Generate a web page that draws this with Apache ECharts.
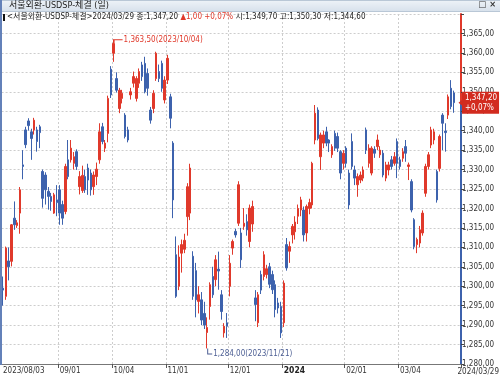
<!DOCTYPE html>
<html>
<head>
<meta charset="utf-8">
<script src="https://cdn.jsdelivr.net/npm/echarts@6/dist/echarts.min.js"></script>
<style>
html,body{margin:0;padding:0;background:#fff}
#root{width:500px;height:378px}
</style>
</head>
<body>
<div id="root"></div>
<script>
const FONT = '"Liberation Sans Narrow", "DejaVu Sans Condensed", "Noto Sans CJK KR", sans-serif';
const RED = '#e0392b';
const BLUE = '#3d62ad';

// trading calendar (weekends + these days closed)
const startDay = '2023/08/03';
const endDay = '2024/03/29';
const holidays = ['2023/08/15','2023/09/28','2023/09/29','2023/10/02','2023/10/03','2023/10/09',
  '2023/12/25','2023/12/29','2024/01/01','2024/02/09','2024/02/12','2024/03/01'];

// OHLC
const open = [
1299.5,1297.4,1306.5,1306.4,1317.5,1315.6,1318.8,1331.2,1340.2,1342.5,
1339.7,1340.2,1340.2,1341.0,1329.5,1328.6,1324.4,1323.1,1318.8,1322.2,
1324.8,1321.0,1319.2,1332.5,1332.5,1331.6,1334.6,1325.6,1324.6,1328.2,
1330.4,1329.1,1325.6,1328.2,1332.5,1341.0,1335.5,1339.3,1355.8,1359.9,
1353.4,1345.7,1348.3,1344.0,1340.2,1349.2,1352.2,1348.3,1352.2,1356.9,
1357.3,1354.7,1345.3,1345.7,1353.4,1355.2,1357.3,1347.9,1353.0,1348.7,
1336.8,1308.1,1300.0,1308.5,1309.5,1317.9,1318.8,1307.7,1304.0,1296.1,
1296.5,1293.0,1288.1,1294.8,1302.5,1301.7,1304.4,1297.8,1288.0,1290.6,
1300.0,1309.8,1314.1,1316.2,1313.7,1315.4,1316.6,1311.5,1316.0,1297.0,
1290.6,1303.0,1302.5,1303.0,1305.0,1303.0,1300.4,1295.7,1294.8,1290.6,
1310.7,1309.0,1313.2,1314.0,1318.0,1319.6,1319.6,1313.7,1320.0,1320.9,
1337.6,1345.3,1333.3,1336.8,1339.7,1337.6,1333.8,1339.3,1338.5,1334.6,
1331.6,1335.5,1329.1,1337.2,1329.9,1326.1,1327.3,1327.8,1340.2,1331.6,
1329.1,1335.2,1335.9,1333.8,1334.2,1327.8,1329.9,1332.5,1331.6,1337.2,
1332.5,1332.9,1335.9,1330.8,1326.9,1317.1,1310.7,1311.1,1313.7,1323.9,
1330.8,1336.3,1337.6,1329.5,1330.3,1344.0,1339.9,1344.0,1350.9,1349.7
];
const close = [
1299.0,1309.8,1305.0,1315.8,1315.8,1316.3,1324.8,1330.8,1336.4,1341.3,
1338.0,1342.7,1337.2,1339.5,1322.6,1324.8,1323.1,1321.8,1323.5,1321.5,
1318.8,1317.5,1330.8,1328.2,1335.5,1333.3,1330.8,1328.2,1328.5,1324.8,
1327.3,1324.8,1328.6,1330.1,1339.7,1337.2,1336.8,1348.3,1349.2,1362.4,
1350.4,1350.4,1349.6,1338.5,1337.6,1350.0,1353.9,1353.4,1355.2,1353.9,
1350.0,1350.9,1342.7,1349.6,1359.9,1353.4,1350.9,1353.0,1358.6,1343.2,
1322.2,1297.4,1307.5,1310.7,1311.8,1325.6,1330.4,1297.4,1296.5,1297.8,
1291.3,1290.0,1289.4,1300.4,1297.8,1306.8,1303.9,1293.5,1289.7,1289.7,
1305.9,1311.5,1313.2,1326.1,1306.8,1316.2,1314.5,1320.1,1320.5,1295.3,
1297.8,1299.0,1308.1,1304.5,1300.5,1299.1,1294.0,1294.4,1288.0,1300.8,
1304.7,1310.2,1315.4,1316.5,1320.0,1322.2,1313.2,1320.5,1321.5,1331.6,
1344.5,1338.0,1338.9,1338.9,1336.8,1336.8,1335.9,1335.5,1335.5,1329.1,
1334.2,1331.6,1320.9,1330.8,1327.8,1328.2,1328.6,1329.9,1335.0,1335.5,
1335.5,1334.2,1337.6,1335.0,1328.6,1331.2,1331.2,1330.8,1333.3,1331.6,
1330.8,1334.6,1334.2,1331.2,1319.6,1310.2,1312.0,1314.5,1318.8,1330.8,
1333.8,1340.2,1339.7,1322.2,1338.5,1341.9,1339.5,1348.7,1346.2,1347.2
];
const low = [
1295.0,1296.5,1301.5,1305.1,1314.5,1315.0,1313.5,1327.5,1335.5,1340.0,
1332.5,1339.0,1334.6,1335.5,1320.2,1321.0,1319.7,1319.4,1318.6,1318.0,
1315.8,1315.8,1318.5,1327.5,1331.8,1330.0,1329.9,1323.6,1324.0,1324.0,
1323.5,1323.3,1323.5,1326.0,1331.5,1336.5,1334.5,1337.0,1348.4,1357.7,
1349.8,1344.5,1347.0,1338.0,1337.0,1348.0,1351.1,1347.5,1351.0,1352.8,
1349.6,1349.0,1341.8,1344.5,1352.8,1352.5,1350.0,1347.0,1352.0,1340.6,
1317.5,1297.0,1299.0,1303.5,1308.5,1313.0,1317.0,1296.5,1292.0,1293.0,
1290.0,1289.0,1284.0,1291.4,1297.0,1300.0,1299.1,1291.4,1286.8,1286.7,
1297.4,1308.1,1312.5,1315.5,1304.7,1314.5,1313.0,1310.0,1314.0,1291.0,
1289.5,1298.0,1301.5,1302.0,1299.5,1298.0,1292.0,1293.0,1286.7,1289.5,
1304.0,1306.0,1311.0,1312.0,1316.0,1318.0,1311.5,1311.5,1318.5,1320.0,
1336.5,1337.5,1329.9,1335.5,1336.0,1334.5,1333.0,1334.8,1334.5,1327.5,
1330.0,1330.5,1319.8,1330.0,1326.0,1323.0,1326.5,1327.0,1334.0,1330.5,
1328.5,1333.0,1335.0,1333.0,1328.0,1327.0,1328.5,1330.0,1331.0,1327.8,
1330.0,1332.0,1332.0,1327.3,1319.0,1309.5,1308.5,1310.0,1313.0,1323.0,
1330.0,1335.5,1336.5,1321.5,1329.5,1335.0,1334.6,1343.0,1345.5,1344.6
];
const high = [
1302.5,1310.2,1310.0,1316.0,1321.8,1317.0,1325.5,1335.0,1341.0,1343.2,
1340.5,1343.3,1341.0,1341.5,1330.0,1329.3,1325.5,1324.0,1324.0,1326.0,
1326.0,1322.0,1331.5,1337.6,1337.6,1334.5,1335.2,1329.6,1331.0,1330.0,
1331.5,1330.0,1329.5,1331.8,1341.9,1342.0,1337.6,1349.0,1356.6,1363.5,
1355.0,1351.0,1350.5,1344.5,1341.0,1351.0,1355.2,1354.0,1356.0,1357.7,
1359.0,1356.0,1346.1,1350.4,1360.3,1357.0,1358.0,1354.0,1359.5,1349.5,
1337.3,1312.8,1310.5,1312.0,1313.5,1326.5,1331.5,1309.0,1306.0,1300.0,
1298.5,1296.0,1292.0,1301.0,1305.0,1308.0,1308.9,1299.0,1290.5,1293.1,
1308.0,1312.0,1314.8,1327.0,1315.0,1320.1,1318.5,1321.0,1322.0,1299.0,
1298.5,1304.0,1309.0,1305.5,1306.0,1304.0,1301.5,1297.0,1296.0,1301.5,
1312.4,1311.5,1316.0,1318.0,1321.0,1323.0,1320.5,1321.0,1322.5,1332.0,
1346.6,1346.0,1339.5,1340.0,1341.0,1337.8,1336.5,1340.0,1339.5,1335.0,
1335.0,1336.0,1330.0,1339.3,1331.0,1329.0,1329.5,1330.8,1340.8,1336.5,
1336.0,1336.0,1339.0,1336.0,1335.0,1332.0,1332.0,1333.5,1334.5,1338.0,
1333.3,1335.5,1337.6,1331.8,1327.5,1317.5,1312.5,1315.5,1319.5,1331.5,
1334.5,1341.0,1340.5,1330.0,1339.0,1344.5,1341.9,1349.3,1353.0,1350.3
];

const yMin = 1280, yMax = 1370, yStep = 5;

function tradingDays(from, to, closed) {
  const out = [];
  const d = new Date(from.replace(/\//g, '-') + 'T00:00:00Z');
  const end = new Date(to.replace(/\//g, '-') + 'T00:00:00Z');
  while (d <= end) {
    const s = d.toISOString().slice(0, 10).replace(/-/g, '/');
    const dow = d.getUTCDay();
    if (dow !== 0 && dow !== 6 && closed.indexOf(s) < 0) out.push(s);
    d.setUTCDate(d.getUTCDate() + 1);
  }
  return out;
}
const dates = tradingDays(startDay, endDay, holidays);
const last = dates.length - 1;

// 1,347.20 is shown as 1,347,20 on this screen
function fmt(v) {
  const parts = v.toFixed(2).split('.');
  return parts[0].replace(/\B(?=(\d{3})+(?!\d))/g, ',') + ',' + parts[1];
}
function isMonthStart(i) {
  if (i === 0) return true;
  if (i > last) return false;
  return dates[i].slice(0, 7) !== dates[i - 1].slice(0, 7);
}

const candles = dates.map((d, i) => [open[i], close[i], low[i], high[i]]);
let iMax = 0, iMin = 0;
high.forEach((v, i) => { if (v > high[iMax]) iMax = i; });
low.forEach((v, i) => { if (v < low[iMin]) iMin = i; });

const chg = close[last] - close[last - 1];
const pct = chg / close[last - 1] * 100;
const chgText = (chg >= 0 ? '▲' : '▼') + fmt(Math.abs(chg));
const pctText = (pct >= 0 ? '+' : '') + pct.toFixed(2).replace('.', ',') + '%';
const ratio = (yMax - close[last]) / (yMax - yMin);

let root = document.getElementById('root');
let myChart = echarts.init(root);

let option = {
  animation: false,
  textStyle: { fontFamily: FONT },
  grid: { left: 1, right: 39, top: 14, bottom: 14 },
  xAxis: {
    type: 'category',
    data: dates.concat(['', '']),
    boundaryGap: true,
    axisLine: { lineStyle: { color: '#777', width: 1 } },
    axisTick: {
      show: true, length: 4,
      interval: (i) => i > 0 && isMonthStart(i),
      lineStyle: { color: '#555' }
    },
    axisLabel: {
      interval: (i) => isMonthStart(i),
      align: 'left', margin: 3,
      fontSize: 8, color: '#333', fontFamily: FONT,
      formatter: (v, i) => {
        if (i === 0) return v;
        if (dates[i].slice(0, 4) !== dates[i - 1].slice(0, 4)) return '{b|' + v.slice(0, 4) + '}';
        return v.slice(5);
      },
      rich: { b: { fontWeight: 'bold', fontSize: 8.5, color: '#222', fontFamily: FONT } }
    },
    splitLine: {
      show: true,
      interval: (i) => i > 0 && isMonthStart(i),
      lineStyle: { color: '#cdcdcd', type: [2, 2] }
    }
  },
  yAxis: {
    type: 'value', position: 'right',
    min: yMin, max: yMax, interval: yStep,
    axisLine: {
      show: true,
      lineStyle: {
        width: 2,
        color: new echarts.graphic.LinearGradient(0, 0, 0, 1, [
          { offset: 0, color: RED }, { offset: ratio, color: RED },
          { offset: ratio, color: BLUE }, { offset: 1, color: BLUE }
        ])
      }
    },
    axisTick: { show: true, length: 3, lineStyle: { color: '#444' } },
    axisLabel: {
      margin: 1, fontSize: 8, color: '#333', fontFamily: FONT,
      formatter: (v) => v >= yMax ? '' : fmt(v)
    },
    splitLine: { lineStyle: { color: '#cdcdcd', type: [2, 2] } }
  },
  series: [{
    type: 'candlestick',
    data: candles,
    barWidth: 2,
    itemStyle: {
      color: RED, color0: BLUE,
      borderColor: RED, borderColor0: BLUE,
      borderWidth: 1
    },
    markPoint: {
      silent: true,
      data: [
        {
          coord: [dates[iMax], high[iMax]],
          symbol: 'path://M0,0L9,0L9,1L1,1L1,4L0,4Z',
          symbolSize: [9, 4], symbolOffset: [4.5, 2],
          itemStyle: { color: RED },
          label: {
            show: true, position: 'right', distance: 1, offset: [0, -1],
            formatter: fmt(high[iMax]) + '(' + dates[iMax] + ')',
            color: RED, fontSize: 8, fontFamily: FONT
          }
        },
        {
          coord: [dates[iMin], low[iMin]],
          symbol: 'path://M0,0L1,0L1,5L5,5L5,6L0,6Z',
          symbolSize: [5, 6], symbolOffset: [2.5, 3],
          itemStyle: { color: '#4d5f94' },
          label: {
            show: true, position: 'right', distance: 1, offset: [0, 2],
            formatter: fmt(low[iMin]) + '(' + dates[iMin] + ')',
            color: '#4d5f94', fontSize: 8, fontFamily: FONT
          }
        }
      ]
    },
    markLine: {
      silent: true,
      symbol: ['none', 'path://M0,0L10,0L5,10Z'],
      symbolSize: [8, 5],
      lineStyle: { color: '#d22b1f', width: 0 },
      label: {
        show: true, position: 'end', distance: 1,
        formatter: fmt(close[last]) + '\n' + pctText,
        color: '#fff', backgroundColor: '#d22b1f',
        padding: [1, 2, 1, 3], fontSize: 8, lineHeight: 10, fontFamily: FONT
      },
      data: [{ yAxis: close[last] }]
    }
  }],
  graphic: [
    {
      type: 'rect', left: 0, top: 0, z: 100,
      shape: { width: 500, height: 11 },
      style: {
        fill: new echarts.graphic.LinearGradient(0, 0, 0, 1, [
          { offset: 0, color: '#eef3f8' }, { offset: 1, color: '#d6e0eb' }
        ]),
        stroke: '#b9c7d6', lineWidth: 1
      }
    },
    { type: 'rect', left: 0, top: 0, z: 101, shape: { width: 2, height: 365 }, style: { fill: '#6381b9' } },
    {
      type: 'text', left: 9, top: 1, z: 101,
      style: { text: '서울외환-USDSP-체결 (일)', fill: '#222', font: '9px ' + FONT }
    },
    {
      type: 'text', right: 4, top: 0, z: 101,
      style: { text: '□ ×', fill: '#333', font: 'bold 9px ' + FONT }
    },
    { type: 'rect', left: 3, top: 14, z: 101, shape: { width: 2, height: 7 }, style: { fill: '#111' } },
    {
      type: 'text', left: 7, top: 13, z: 101,
      style: {
        text: '{d|<서울외환-USDSP-체결>' + dates[last] + ' 종:' + fmt(close[last]) + ' }' +
              '{r|' + chgText + ' ' + pctText + '}' +
              '{d| 시:' + fmt(open[last]) + ' 고:' + fmt(high[last]) + ' 저:' + fmt(low[last]) + '}',
        rich: {
          d: { fill: '#222', font: '8px ' + FONT },
          r: { fill: RED, font: '8px ' + FONT }
        }
      }
    },
    {
      type: 'text', right: 1, bottom: 2, z: 101,
      style: { text: dates[last], fill: '#333', font: '8px ' + FONT }
    }
  ]
};
myChart.setOption(option);
</script>
</body>
</html>
